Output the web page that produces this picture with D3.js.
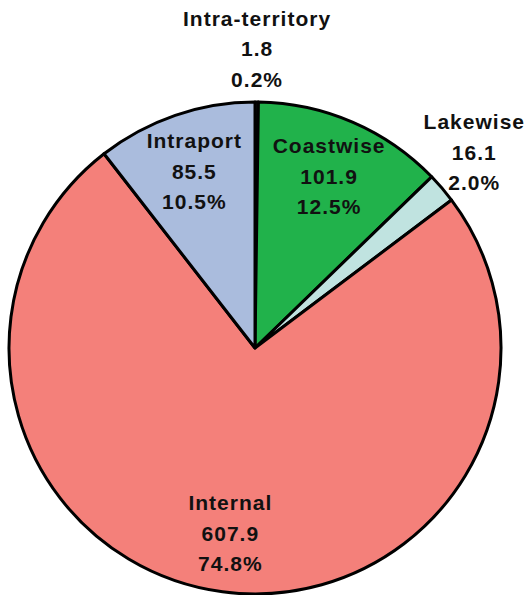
<!DOCTYPE html>
<html>
<head>
<meta charset="utf-8">
<script src="https://cdn.jsdelivr.net/npm/d3@7"></script>
<style>
  body { margin: 0; background: #fff; }
  text { font-family: "Liberation Sans", Arial, sans-serif; font-weight: bold; font-size: 21px; letter-spacing: 1px; fill: #111; }
</style>
</head>
<body>
<div id="chart"></div>
<script>
// slice data, clockwise from 12 o'clock
var categories = ["Intra-territory", "Coastwise", "Lakewise", "Internal", "Intraport"];
var values = [1.8, 101.9, 16.1, 607.9, 85.5];
var percents = ["0.2%", "12.5%", "2.0%", "74.8%", "10.5%"];
var colors = ["#222222", "#21b24b", "#c0e3e0", "#f4807a", "#aabcdd"];
var labelOutside = [true, false, true, false, false];

var width = 529, height = 595;
var cx = 255, cy = 348, radius = 246;

var svg = d3.select("#chart")
    .append("svg")
        .attr("width", width)
        .attr("height", height)
    .append("g")
        .attr("transform", "translate(" + cx + "," + cy + ")");

var data = categories.map(function(c, i) {
    return {name: c, value: values[i], pct: percents[i], color: colors[i], outside: labelOutside[i]};
});

var pie = d3.pie().sort(null).value(function(d) { return d.value; });
var arc = d3.arc().innerRadius(0).outerRadius(radius);
var innerLabel = d3.arc().innerRadius(radius * 0.76).outerRadius(radius * 0.76);
var outerLabel = d3.arc().innerRadius(radius * 1.2).outerRadius(radius * 1.2);

var arcs = pie(data);

svg.selectAll("path")
    .data(arcs)
    .enter().append("path")
        .attr("d", arc)
        .attr("fill", function(d) { return d.data.color; })
        .attr("stroke", "#000")
        .attr("stroke-width", 3)
        .attr("stroke-linejoin", "round");

var lineH = 30.5;
var labels = svg.selectAll("g.label")
    .data(arcs)
    .enter().append("g")
        .attr("class", "label");

labels.each(function(d) {
    var g = d3.select(this);
    var c = d.data.outside ? outerLabel.centroid(d) : innerLabel.centroid(d);
    var lines = [d.data.name, d3.format(".1f")(d.data.value), d.data.pct];
    lines.forEach(function(t, i) {
        g.append("text")
            .attr("x", 0)
            .attr("y", (i - 1) * lineH)
            .attr("dy", "0.35em")
            .style("text-anchor", "middle")
            .text(t);
    });
    // keep the label block inside the picture
    var bb = this.getBBox();
    var maxX = width - cx - 4;
    var shift = Math.min(0, maxX - (c[0] + bb.x + bb.width));
    var up = d.data.outside ? 4 : 0;
    g.attr("transform", "translate(" + (c[0] + shift) + "," + (c[1] - up) + ")");
});
</script>
</body>
</html>
